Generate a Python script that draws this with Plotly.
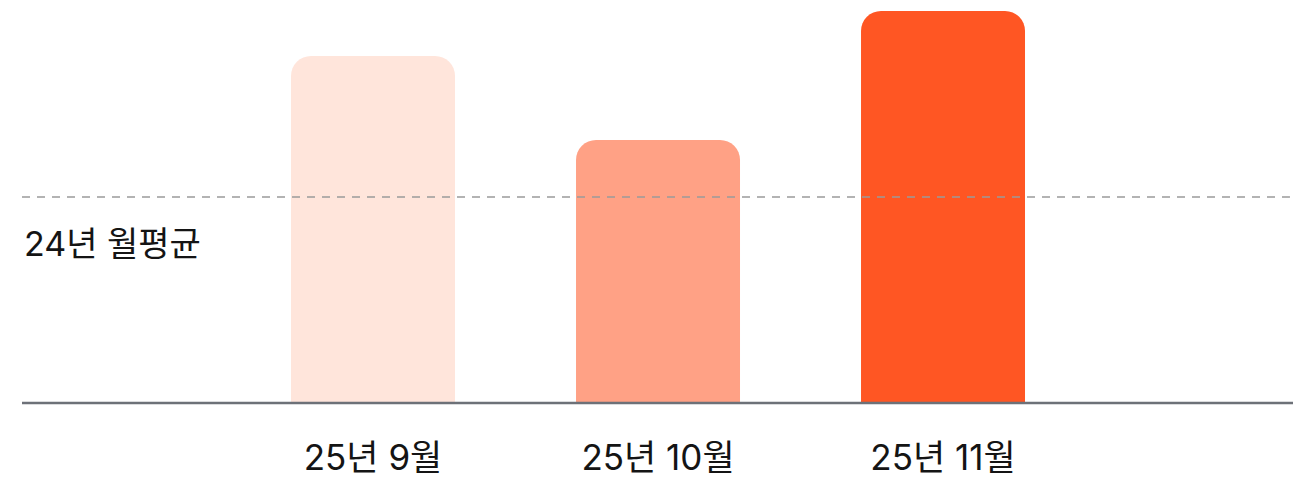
import plotly.graph_objects as go

categories = ["25년 9월", "25년 10월", "25년 11월"]
values = [347, 263, 392]
avg_value = 206
avg_label = "24년 월평균"
colors = ["#FFE5DB", "#FFA185", "#FF5623"]

x_pos = list(range(len(categories)))

fig = go.Figure()
fig.add_trace(go.Bar(
    x=x_pos, y=values, width=0.5754,
    marker=dict(color=colors, line=dict(width=0)),
    hoverinfo="skip",
))

fig.add_shape(type="line", xref="paper", yref="y", x0=0, x1=0.9976,
              y0=avg_value, y1=avg_value,
              line=dict(color="#9a9a9a", width=1.5, dash="8px,7px"))
fig.add_shape(type="line", xref="paper", yref="paper", x0=0, x1=1,
              y0=0, y1=0, line=dict(color="#6d7178", width=2.5))

fig.add_annotation(xref="paper", yref="y", x=0, y=avg_value - 46,
                   xanchor="left", yanchor="middle", showarrow=False,
                   text=avg_label,
                   font=dict(size=34, color="#141414"))

fig.update_layout(
    width=1310, height=496,
    margin=dict(l=22, r=17, t=0, b=93),
    plot_bgcolor="white", paper_bgcolor="white",
    barcornerradius=20,
    showlegend=False,
    font=dict(family="Inter, Noto Sans CJK KR, sans-serif", color="#141414"),
    xaxis=dict(range=[-1.2316, 3.228], tickvals=x_pos, ticktext=categories,
               showgrid=False, zeroline=False, showline=False,
               ticks="", ticklabelstandoff=31,
               tickfont=dict(size=35, color="#141414")),
    yaxis=dict(range=[0, 403], visible=False, fixedrange=True),
)

fig.write_html("out.html", config={"displayModeBar": False},
               post_script="document.body.style.margin='0';")
